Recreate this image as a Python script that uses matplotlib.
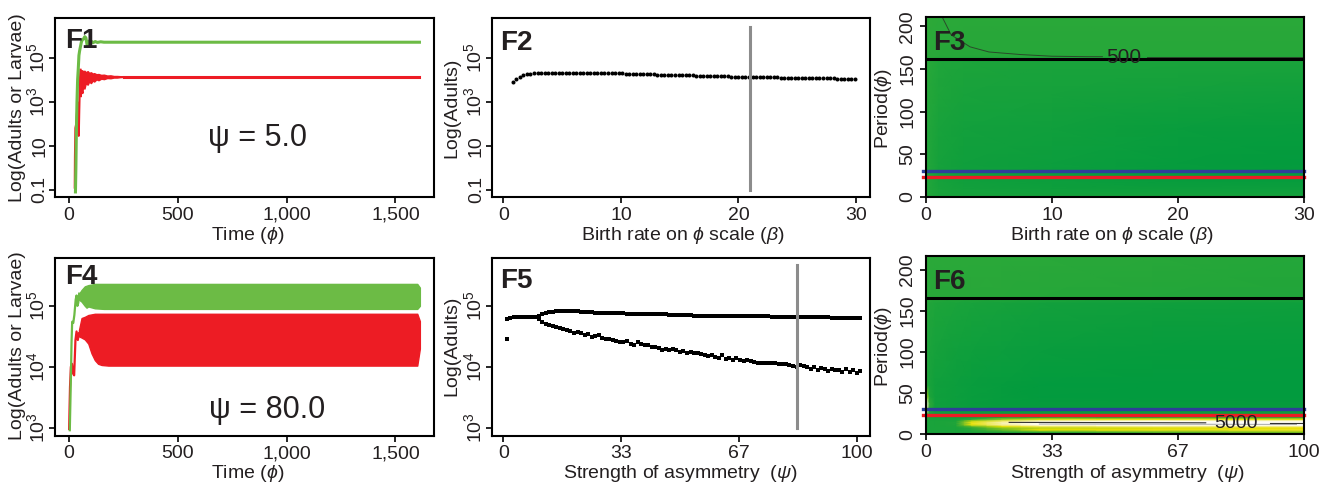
import numpy as np
import matplotlib.pyplot as plt
from matplotlib.colors import LinearSegmentedColormap
from matplotlib.ticker import NullLocator

plt.rcParams['font.family'] = ['Liberation Sans', 'DejaVu Sans']
plt.rcParams['mathtext.fontset'] = 'custom'
plt.rcParams['mathtext.rm'] = 'Liberation Sans'
plt.rcParams['mathtext.it'] = 'Liberation Sans:italic'
plt.rcParams['mathtext.bf'] = 'Liberation Sans:bold'

TXT = '#231f20'
GREEN = '#6cbb45'
RED = '#ed1c24'
BLUE = '#2e3f99'
GREY = '#8c8c8c'

# ---- F1: time series, psi = 5 (log10 of counts) ----
f1_green_t = [29, 31, 33, 36, 39, 42, 45, 48, 52, 56, 60, 66, 72, 77, 82, 86, 90,
              96, 102, 110, 120, 130, 145, 160, 1610]
f1_green_v = [-1.1, 0.0, 1.5, 3.0, 4.0, 4.5, 5.1, 5.3, 5.5, 5.7, 5.8, 5.85, 5.95,
              5.9, 5.6, 5.55, 5.75, 5.68, 5.74, 5.68, 5.73, 5.69, 5.72, 5.70, 5.70]
f1_red_t = [26, 27, 29, 33, 37, 40, 42, 44, 46, 49, 52]
f1_red_v = [-0.9, 0.5, 1.8, 2.0, 2.6, 2.95, 2.3, 1.45, 2.5, 3.8, 4.45]
f1_red_bt = [52, 56, 60, 64, 70, 76, 85, 92, 100, 108, 115, 125, 135, 147, 160,
             175, 190, 205, 220, 235, 250]
f1_red_hi = [4.45, 4.38, 4.42, 4.35, 4.40, 4.33, 4.38, 4.30, 4.33, 4.27, 4.29,
             4.24, 4.25, 4.21, 4.22, 4.18, 4.19, 4.16, 4.16, 4.15, 4.14]
f1_red_lo = [3.25, 3.60, 3.40, 3.75, 3.60, 3.85, 3.78, 3.93, 3.85, 3.97, 3.92,
             4.02, 3.98, 4.05, 4.03, 4.08, 4.07, 4.10, 4.10, 4.12, 4.13]
f1_red_st_t = [250, 1610]
f1_red_st_v = [4.135, 4.135]

# ---- F4: time series, psi = 80 ----
f4_green_t = [3, 8, 11, 14, 19, 24, 30, 34, 38, 42, 46]
f4_green_v = [2.96, 3.8, 4.4, 4.74, 4.72, 4.85, 5.1, 5.17, 5.0, 5.05, 5.2]
f4_green_bt = [46, 57, 72, 80, 88, 118, 160, 1600, 1612]
f4_green_hi = [5.2, 5.26, 5.32, 5.33, 5.34, 5.36, 5.36, 5.36, 5.3]
f4_green_lo = [5.1, 5.07, 5.0, 4.97, 4.99, 4.96, 4.95, 4.95, 5.0]
f4_red_t = [0, 2, 4, 8, 13, 18, 23, 29, 34, 40, 45]
f4_red_v = [2.98, 3.34, 3.67, 4.0, 4.05, 3.89, 3.86, 4.44, 4.58, 4.44, 4.55]
f4_red_bt = [45, 57, 72, 88, 103, 118, 133, 149, 180, 1600, 1612]
f4_red_hi = [4.6, 4.80, 4.82, 4.85, 4.86, 4.87, 4.87, 4.87, 4.87, 4.87, 4.75]
f4_red_lo = [4.5, 4.48, 4.45, 4.38, 4.22, 4.11, 4.05, 4.03, 4.02, 4.02, 4.3]

# ---- F2: adults vs birth rate (log10) ----
f2_beta = np.arange(98) * 0.3 + 0.8
f2_adults = [3.91, 4.05, 4.14, 4.20, 4.24, 4.26, 4.28, 4.29, 4.30, 4.31,
             4.32, 4.32, 4.32, 4.32, 4.32, 4.32, 4.32, 4.32, 4.32, 4.32, 4.32,
             4.31, 4.31, 4.31, 4.30, 4.30, 4.30, 4.29, 4.29, 4.29, 4.28,
             4.28, 4.27, 4.27, 4.26, 4.26, 4.25, 4.25, 4.24, 4.24, 4.24,
             4.23, 4.23, 4.22, 4.22, 4.21, 4.21, 4.21, 4.20, 4.20, 4.19,
             4.19, 4.18, 4.18, 4.17, 4.17, 4.17, 4.16, 4.16, 4.15, 4.15,
             4.15, 4.14, 4.14, 4.13, 4.13, 4.13, 4.12, 4.12, 4.12, 4.11,
             4.11, 4.11, 4.10, 4.10, 4.10, 4.09, 4.09, 4.09, 4.08, 4.08,
             4.08, 4.08, 4.07, 4.07, 4.07, 4.07, 4.06, 4.06, 4.06, 4.06,
             4.06, 4.05, 4.05, 4.05, 4.05, 4.05, 4.05]
f2_mark = 21

# ---- F5: adults vs asymmetry (log10), two branches ----
f5_psi = np.arange(1, 102)
f5_upper = [4.79, 4.80, 4.82, 4.82, 4.82, 4.82, 4.82, 4.82, 4.82, 4.84,
            4.87, 4.89, 4.90, 4.90, 4.91, 4.91, 4.91, 4.91, 4.91, 4.91,
            4.91, 4.90, 4.90, 4.90, 4.90, 4.89, 4.89, 4.89, 4.89, 4.88,
            4.88, 4.88, 4.88, 4.88, 4.87, 4.87, 4.87, 4.87, 4.87, 4.87,
            4.86, 4.86, 4.86, 4.86, 4.86, 4.86, 4.85, 4.85, 4.85, 4.85,
            4.85, 4.85, 4.85, 4.84, 4.84, 4.84, 4.84, 4.84, 4.84, 4.84,
            4.84, 4.84, 4.84, 4.83, 4.83, 4.83, 4.83, 4.83, 4.83, 4.83,
            4.83, 4.83, 4.83, 4.83, 4.83, 4.82, 4.82, 4.82, 4.82, 4.82,
            4.82, 4.82, 4.82, 4.82, 4.81, 4.81, 4.81, 4.81, 4.81, 4.81,
            4.81, 4.81, 4.80, 4.80, 4.80, 4.80, 4.80, 4.80, 4.80, 4.80, 4.80]
f5_lower_psi = np.arange(10, 102)
f5_lower = [4.78, 4.74, 4.71, 4.69, 4.67, 4.66, 4.64, 4.62, 4.61, 4.58,
            4.56, 4.57, 4.55, 4.53, 4.54, 4.49, 4.51, 4.52, 4.48, 4.45,
            4.46, 4.44, 4.43, 4.41, 4.40, 4.42, 4.37, 4.35, 4.40, 4.37,
            4.35, 4.36, 4.33, 4.32, 4.31, 4.28, 4.30, 4.27, 4.30, 4.27,
            4.25, 4.26, 4.23, 4.24, 4.22, 4.23, 4.21, 4.19, 4.17, 4.20,
            4.16, 4.15, 4.19, 4.13, 4.15, 4.11, 4.14, 4.12, 4.10, 4.11,
            4.09, 4.08, 4.07, 4.07, 4.07, 4.06, 4.06, 4.06, 4.05, 4.05,
            4.04, 4.03, 4.02, 4.00, 4.03, 4.01, 3.99, 3.97, 4.00, 3.95,
            3.98, 3.96, 3.93, 3.97, 3.94, 3.95, 3.92, 3.96, 3.91, 3.94,
            3.90, 3.93]
f5_extra_psi = [1]
f5_extra = [4.46]
f5_mark = 83

# ---- F3: period surface over birth rate ----
f3_beta = [0, 1, 3, 10, 20, 30]
f3_period = [0, 10, 20, 40, 80, 120, 160, 166, 212]
f3_z = [[0.30, 0.22, 0.20, 0.18, 0.18, 0.18],
        [0.30, 0.20, 0.16, 0.12, 0.10, 0.10],
        [0.30, 0.18, 0.14, 0.10, 0.06, 0.05],
        [0.30, 0.18, 0.14, 0.10, 0.05, 0.03],
        [0.30, 0.20, 0.16, 0.13, 0.08, 0.06],
        [0.32, 0.24, 0.20, 0.18, 0.16, 0.14],
        [0.34, 0.27, 0.24, 0.22, 0.22, 0.22],
        [0.36, 0.33, 0.32, 0.32, 0.32, 0.32],
        [0.38, 0.36, 0.35, 0.35, 0.35, 0.35]]
f3_c500_b = [1.25, 2.0, 3.5, 5.0, 7.5, 10.0, 12.75, 14.0]
f3_c500_p = [212, 190, 176, 170, 167, 165, 164.5, 164.5]
f3_c500_b2 = [17.5, 30]
f3_c500_p2 = [164.5, 164.5]

# ---- F6: period surface over asymmetry ----
f6_psi = [0, 1, 2.5, 8, 12, 20, 30, 60, 100]
f6_period = [0, 3, 5.5, 8, 10, 11.5, 14, 16.5, 18.5, 21, 24, 30, 38, 46, 60,
             100, 160, 167, 217]
f6_z = [[0.25, 0.22, 0.22, 0.22, 0.22, 0.22, 0.24, 0.26, 0.28],
        [0.25, 0.22, 0.22, 0.22, 0.24, 0.30, 0.38, 0.45, 0.50],
        [0.25, 0.22, 0.22, 0.22, 0.30, 0.45, 0.60, 0.62, 0.64],
        [0.25, 0.22, 0.22, 0.22, 0.35, 0.50, 0.55, 0.58, 0.60],
        [0.25, 0.22, 0.22, 0.24, 0.45, 0.60, 0.70, 0.75, 0.75],
        [0.25, 0.22, 0.22, 0.26, 0.58, 0.75, 0.92, 1.00, 1.00],
        [0.25, 0.22, 0.22, 0.28, 0.62, 0.82, 1.00, 1.00, 1.00],
        [0.25, 0.22, 0.22, 0.24, 0.55, 0.70, 0.85, 0.95, 0.90],
        [0.25, 0.20, 0.18, 0.18, 0.35, 0.50, 0.58, 0.60, 0.58],
        [0.28, 0.18, 0.16, 0.14, 0.16, 0.22, 0.28, 0.30, 0.32],
        [0.35, 0.18, 0.14, 0.12, 0.10, 0.10, 0.10, 0.12, 0.15],
        [0.75, 0.30, 0.14, 0.10, 0.08, 0.06, 0.05, 0.05, 0.08],
        [0.90, 0.40, 0.14, 0.10, 0.08, 0.05, 0.04, 0.04, 0.04],
        [0.55, 0.25, 0.14, 0.10, 0.08, 0.05, 0.03, 0.02, 0.02],
        [0.30, 0.20, 0.14, 0.10, 0.08, 0.05, 0.03, 0.02, 0.02],
        [0.30, 0.22, 0.18, 0.14, 0.12, 0.10, 0.08, 0.05, 0.04],
        [0.32, 0.28, 0.24, 0.22, 0.20, 0.18, 0.16, 0.14, 0.12],
        [0.36, 0.34, 0.33, 0.33, 0.33, 0.33, 0.32, 0.30, 0.28],
        [0.38, 0.36, 0.35, 0.35, 0.35, 0.35, 0.35, 0.33, 0.30]]
f6_c5000_psi = [22, 74]
f6_c5000_p = [14.5, 14.0]
f6_c5000_psi2 = [91, 100]
f6_c5000_p2 = [13.5, 13.5]
f6_inner_psi = [30, 98]
f6_inner_p = [12.5, 12.0]

# reference periods drawn across the surfaces
per_black_f3 = 162
per_black_f6 = 166
per_blue = 31
per_red = 24

W, H = 1325, 488
fig = plt.figure(figsize=(W / 100, H / 100), dpi=100)


def add_ax(l, t, r, b):
    return fig.add_axes([l / W, 1 - b / H, (r - l) / W, (b - t) / H])


def put(x, y, s, **kw):
    # place text by pixel position measured from the top-left corner
    fig.text(x / W, 1 - y / H, s, color=TXT, **kw)


def style(ax):
    for s in ax.spines.values():
        s.set_linewidth(1.5)
        s.set_zorder(10)
    ax.tick_params(direction='out', length=4, width=1.2, labelsize=14,
                   colors='black', labelcolor=TXT)
    ax.tick_params(axis='x', pad=3)
    ax.tick_params(axis='y', pad=1)
    ax.yaxis.set_minor_locator(NullLocator())


def yticks(ax, vals, labels):
    ax.set_yticks(vals)
    ax.set_yticklabels(labels, rotation=90, va='center')


greens = LinearSegmentedColormap.from_list(
    'surf', [(0.0, '#009a3e'), (0.4, '#30aa38'), (0.6, '#ece200'),
             (0.8, '#f8f1b8'), (1.0, '#ffffff')])

log_labels_a = ['0.1', '10', r'$10^3$', r'$10^5$']
log_labels_b = [r'$10^3$', r'$10^4$', r'$10^5$']

# F1
ax1 = add_ax(55, 18, 434, 197)
ax1.plot(f1_red_t, 10 ** np.array(f1_red_v), color=RED, lw=1.6)
ax1.fill_between(f1_red_bt, 10 ** np.array(f1_red_lo), 10 ** np.array(f1_red_hi),
                 color=RED, lw=1.2)
ax1.plot(f1_red_st_t, 10 ** np.array(f1_red_st_v), color=RED, lw=2.2)
ax1.plot(f1_green_t, 10 ** np.array(f1_green_v), color=GREEN, lw=2.2)
ax1.set_yscale('log')
ax1.set_xlim(-65, 1677)
ax1.set_ylim(10 ** -1.33, 10 ** 6.8)
ax1.set_xticks([0, 500, 1000, 1500])
ax1.set_xticklabels(['0', '500', '1,000', '1,500'])
yticks(ax1, [0.1, 10, 1e3, 1e5], log_labels_a)
style(ax1)
put(257, 138, 'ψ = 5.0', fontsize=22, ha='center', va='center')

# F2
ax2 = add_ax(491.7, 18, 870, 197)
ax2.plot(f2_beta, 10 ** np.array(f2_adults), 'o', color='black', ms=2.9, mew=0)
ax2.plot([f2_mark, f2_mark], [0.1, 10 ** 6.4], color=GREY, lw=2.2, zorder=3)
ax2.set_yscale('log')
ax2.set_xlim(-1.0, 31.2)
ax2.set_ylim(10 ** -1.33, 10 ** 6.8)
ax2.set_xticks([0, 10, 20, 30])
yticks(ax2, [0.1, 10, 1e3, 1e5], log_labels_a)
style(ax2)

# F3
ax3 = add_ax(926, 17, 1304, 197)
ax3.pcolormesh(f3_beta, f3_period, np.array(f3_z), shading='gouraud',
               cmap=greens, vmin=0, vmax=1)
ax3.plot(f3_c500_b, f3_c500_p, color='#2a4a2a', lw=0.7)
ax3.plot(f3_c500_b2, f3_c500_p2, color='#2a4a2a', lw=0.7)
ax3.text(15.7, 163.5, '500', fontsize=15, color=TXT, ha='center', va='center')
ax3.axhline(per_black_f3, color='black', lw=2.2)
ax3.plot([-0.25, 30], [per_blue, per_blue], color=BLUE, lw=2.4, clip_on=False)
ax3.plot([-0.25, 30], [per_red, per_red], color=RED, lw=2.4, clip_on=False)
ax3.set_xlim(0, 30)
ax3.set_ylim(0, 211)
ax3.set_xticks([0, 10, 20, 30])
ax3.set_yticks([0, 50, 100, 150, 200])
ax3.set_yticklabels(['0', '50', '100', '150', '200'], rotation=90, va='center')
style(ax3)
ax3.tick_params(axis='y', pad=3)

# F4
ax4 = add_ax(55, 257.7, 434, 435.7)
ax4.plot(f4_red_t, 10 ** np.array(f4_red_v), color=RED, lw=1.6)
ax4.fill_between(f4_red_bt, 10 ** np.array(f4_red_lo), 10 ** np.array(f4_red_hi),
                 color=RED, lw=1.0)
ax4.plot(f4_green_t, 10 ** np.array(f4_green_v), color=GREEN, lw=1.6)
ax4.fill_between(f4_green_bt, 10 ** np.array(f4_green_lo), 10 ** np.array(f4_green_hi),
                 color=GREEN, lw=1.0)
ax4.set_yscale('log')
ax4.set_xlim(-65, 1677)
ax4.set_ylim(10 ** 2.87, 10 ** 5.79)
ax4.set_xticks([0, 500, 1000, 1500])
ax4.set_xticklabels(['0', '500', '1,000', '1,500'])
yticks(ax4, [1e3, 1e4, 1e5], log_labels_b)
style(ax4)
put(266.7, 410, 'ψ = 80.0', fontsize=22, ha='center', va='center')

# F5
ax5 = add_ax(491.7, 257.7, 870, 435.7)
ax5.plot(f5_psi, 10 ** np.array(f5_upper), 's', color='black', ms=2.5, mew=0)
ax5.plot(f5_lower_psi, 10 ** np.array(f5_lower), 's', color='black', ms=2.5, mew=0)
ax5.plot(f5_extra_psi, 10 ** np.array(f5_extra), 's', color='black', ms=2.5, mew=0)
ax5.plot([f5_mark, f5_mark], [1e3, 10 ** 5.67], color=GREY, lw=2.2, zorder=3)
ax5.set_yscale('log')
ax5.set_xlim(-3.3, 103.8)
ax5.set_ylim(10 ** 2.87, 10 ** 5.79)
ax5.set_xticks([0, 100 / 3, 200 / 3, 100])
ax5.set_xticklabels(['0', '33', '67', '100'])
yticks(ax5, [1e3, 1e4, 1e5], log_labels_b)
style(ax5)

# F6
ax6 = add_ax(926, 256, 1304, 434.3)
ax6.pcolormesh(f6_psi, f6_period, np.array(f6_z), shading='gouraud',
               cmap=greens, vmin=0, vmax=1)
ax6.plot(f6_inner_psi, f6_inner_p, color='#b0b0b0', lw=0.8)
ax6.plot(f6_c5000_psi, f6_c5000_p, color='#333333', lw=0.8)
ax6.plot(f6_c5000_psi2, f6_c5000_p2, color='#333333', lw=0.8)
ax6.text(82, 13.5, '5000', fontsize=14, color=TXT, ha='center', va='center')
ax6.axhline(per_black_f6, color='black', lw=2.2)
ax6.plot([-0.8, 100], [per_blue, per_blue], color=BLUE, lw=2.4, clip_on=False)
ax6.plot([-0.8, 100], [per_red, per_red], color=RED, lw=2.4, clip_on=False)
ax6.set_xlim(0, 100)
ax6.set_ylim(0, 217)
ax6.set_xticks([0, 100 / 3, 200 / 3, 100])
ax6.set_xticklabels(['0', '33', '67', '100'])
ax6.set_yticks([0, 50, 100, 150, 200])
ax6.set_yticklabels(['0', '50', '100', '150', '200'], rotation=90, va='center')
style(ax6)
ax6.tick_params(axis='y', pad=3)

# panel tags
for x, y, s in [(65, 48, 'F1'), (500, 50, 'F2'), (933, 50, 'F3'),
                (65, 284, 'F4'), (500, 288, 'F5'), (933, 289, 'F6')]:
    put(x, y, s, fontsize=20, fontweight='bold', ha='left', va='baseline')

# axis titles
xlab = [(248, 236, r'Time ($\phi$)'), (683, 236, r'Birth rate on $\phi$ scale ($\beta$)'),
        (1112, 236, r'Birth rate on $\phi$ scale ($\beta$)'),
        (248, 473, r'Time ($\phi$)'), (680, 473, r'Strength of asymmetry  ($\psi$)'),
        (1127, 473, r'Strength of asymmetry  ($\psi$)')]
for x, y, s in xlab:
    put(x, y, s, fontsize=14, ha='center', va='center')

ylab = [(18, 108, 'Log(Adults or Larvae)'), (452, 108, 'Log(Adults)'),
        (884, 108, r'Period($\phi$)'),
        (18, 346, 'Log(Adults or Larvae)'), (452, 346, 'Log(Adults)'),
        (884, 346, r'Period($\phi$)')]
for x, y, s in ylab:
    put(x, y, s, fontsize=14, ha='center', va='center', rotation=90)

fig.savefig('out.png', dpi=100)
